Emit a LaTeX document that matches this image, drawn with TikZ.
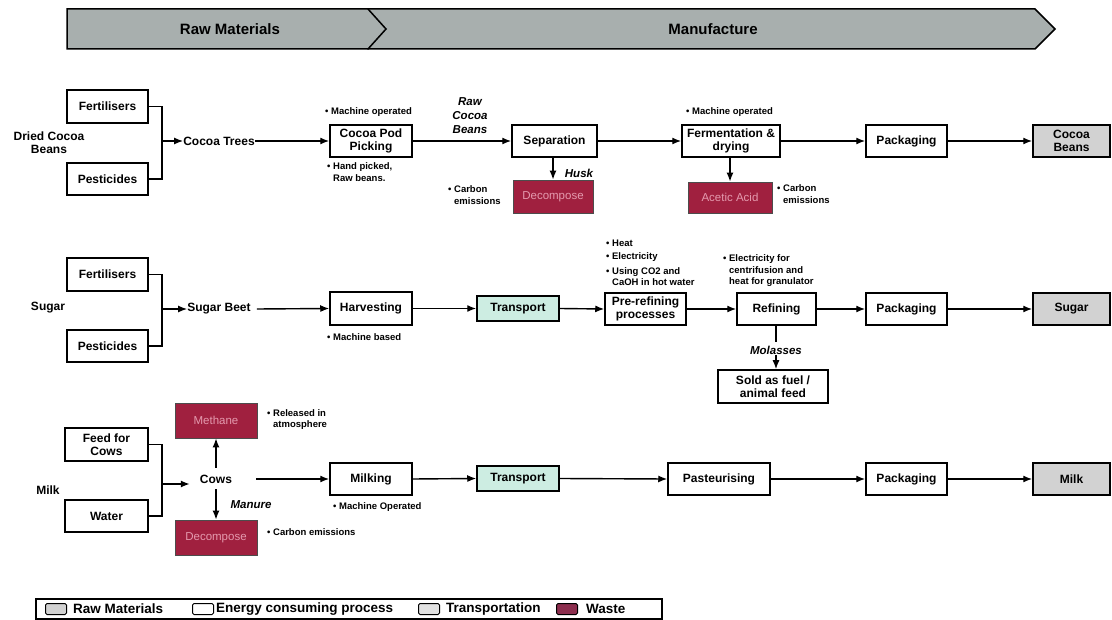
\documentclass[tikz,border=0pt]{standalone}
\usepackage{fontspec}
\setmainfont{Liberation Sans}
\usetikzlibrary{arrows.meta}
\definecolor{bannergrey}{HTML}{A8AFAE}
\definecolor{rawgrey}{HTML}{D2D2D2}
\definecolor{transfill}{HTML}{CDEDE2}
\definecolor{wastefill}{HTML}{A0203F}
\definecolor{wastetext}{HTML}{E49AAE}
\definecolor{legtrans}{HTML}{E2E2E2}
\definecolor{legwaste}{HTML}{8C2E4E}
\newcommand{\bul}{\textbullet\ }
\newcommand{\bulind}{\hphantom{\textbullet\ }}
\tikzset{
 box/.style={draw, line width=1.5pt, fill=white, inner sep=0pt, align=center, font=\fontsize{12}{13}\selectfont\bfseries},
 rawbox/.style={box, fill=rawgrey},
 transbox/.style={box, fill=transfill},
 wastebox/.style={draw=black!70, line width=0.8pt, fill=wastefill, inner sep=0pt, text=wastetext, font=\fontsize{11.5}{13}\selectfont},
 plain/.style={inner sep=0pt, align=center, font=\fontsize{12}{13}\selectfont\bfseries},
 ital/.style={inner sep=0pt, align=center, font=\fontsize{11.5}{14}\selectfont\bfseries\itshape},
 note/.style={inner sep=0pt, anchor=west, align=left, font=\fontsize{9.5}{11.5}\selectfont\bfseries},
 arr/.style={line width=1.4pt, -{Latex[length=9pt,width=7pt]}},
 ln/.style={line width=1.4pt},
 banner/.style={draw, line width=1.5pt, fill=bannergrey},
 bantext/.style={inner sep=0pt, font=\fontsize{15}{17}\selectfont\bfseries},
 legtext/.style={inner sep=0pt, anchor=west, font=\fontsize{13.5}{15}\selectfont\bfseries},
 swatch/.style={draw, line width=1pt, rounded corners=1.5pt, minimum width=21pt, minimum height=11pt, inner sep=0pt},
}
\begin{document}
\begin{tikzpicture}[x=1pt,y=-1pt]
\useasboundingbox[fill=white] (0,0) rectangle (1112,620);

% banner
\draw[banner] (368,9) -- (1035,9) -- (1055,29) -- (1035,49) -- (368,49) -- cycle;
\draw[banner] (67,9) -- (368,9) -- (386,29) -- (368,49) -- (67,49) -- cycle;
\node[bantext] (bRaw) at (230,29) {Raw Materials};
\node[bantext] (bMan) at (713,29) {Manufacture};

% ---------- Row 1: cocoa ----------
\node[plain] (lab1) at (49,143) {Dried Cocoa\\Beans};
\node[box, minimum width=81pt, minimum height=33pt] (fert1) at (107.5,106.5) {Fertilisers};
\node[box, minimum width=81pt, minimum height=32pt] (pest1) at (107.5,179) {Pesticides};
\coordinate (j1) at (162,141);
\node[plain] (trees) at (219,141) {Cocoa Trees};
\node[box, minimum width=82pt, minimum height=32pt] (pick) at (371,141) {Cocoa Pod\\Picking};
\node[box, minimum width=85pt, minimum height=32pt] (sep) at (554.5,141) {Separation};
\node[wastebox, minimum width=80pt, minimum height=33pt] (dec1) at (553,196.5) {Decompose};
\node[box, minimum width=98pt, minimum height=32pt] (ferm) at (731,141) {Fermentation \&\\drying};
\node[wastebox, minimum width=84pt, minimum height=31pt] (acet) at (730,197.5) {Acetic Acid};
\node[box, minimum width=81pt, minimum height=32pt] (pack1) at (906.5,141) {Packaging};
\node[rawbox, minimum width=77pt, minimum height=32pt] (cb) at (1071.5,141) {Cocoa\\Beans};

\node[ital] (rcb) at (470,116) {Raw\\Cocoa\\Beans};
\node[ital] (husk) at (579,173) {Husk};
\node[note] (n1) at (325,112) {\bul Machine operated};
\node[note] (n2) at (327,172) {\bul Hand picked,\\\bulind Raw beans.};
\node[note] (n3) at (448,195) {\bul Carbon\\\bulind emissions};
\node[note] (n4) at (686,112) {\bul Machine operated};
\node[note] (n5) at (777,194) {\bul Carbon\\\bulind emissions};

\draw[ln] (fert1.east) -| (j1) |- (pest1.east);
\draw[arr] (j1) -- (trees.west);
\draw[arr] (trees.east) -- (pick.west);
\draw[arr] (pick.east) -- (sep.west);
\draw[arr] (sep.south -| dec1.north) -- (dec1.north);
\draw[arr] (sep.east) -- (ferm.west);
\draw[arr] (ferm.south -| acet.north) -- (acet.north);
\draw[arr] (ferm.east) -- (pack1.west);
\draw[arr] (pack1.east) -- (cb.west);

% ---------- Row 2: sugar ----------
\node[plain] (lab2) at (48,308) {Sugar};
\node[box, minimum width=81pt, minimum height=33pt] (fert2) at (107.5,274.5) {Fertilisers};
\node[box, minimum width=81pt, minimum height=32pt] (pest2) at (107.5,346) {Pesticides};
\coordinate (j2) at (162,309);
\node[plain] (beet) at (219,309) {Sugar Beet};
\node[box, minimum width=82pt, minimum height=33pt] (harv) at (371,308.5) {Harvesting};
\node[transbox, minimum width=82pt, minimum height=25pt] (tr2) at (518,308.5) {Transport};
\node[box, minimum width=81pt, minimum height=32pt] (pre) at (645.5,309) {Pre-refining\\processes};
\node[box, minimum width=79pt, minimum height=32pt] (ref) at (776.5,309) {Refining};
\node[box, minimum width=110pt, minimum height=33pt] (sold) at (773,386.5) {Sold as fuel /\\animal feed};
\node[box, minimum width=81pt, minimum height=32pt] (pack2) at (906.5,309) {Packaging};
\node[rawbox, minimum width=77pt, minimum height=32pt] (sug) at (1071.5,309) {Sugar};

\node[ital] (mol) at (776,350) {Molasses};
\node[note] (n6) at (327,337) {\bul Machine based};
\node[note] (n7) at (606,243) {\bul Heat};
\node[note] (n8) at (606,257) {\bul Electricity};
\node[note] (n9) at (606,276.5) {\bul Using CO2 and\\\bulind CaOH in hot water};
\node[note] (n10) at (723,271) {\bul Electricity for\\\bulind centrifusion and\\\bulind heat for granulator};

\draw[ln] (fert2.east) -| (j2) |- (pest2.east);
\draw[arr] (j2) -- (beet.west);
\draw[arr] ([xshift=6pt]beet.east) -- (harv.west);
\draw[arr] (harv.east) -- (tr2.west);
\draw[arr] (tr2.east) -- (pre.west);
\draw[arr] (pre.east) -- (ref.west);
\draw[ln] (ref.south -| mol.north) -- ([yshift=4pt]mol.north);
\draw[arr] ([yshift=-1pt]mol.south) -- (mol.south |- sold.north);
\draw[arr] (ref.east) -- (pack2.west);
\draw[arr] (pack2.east) -- (sug.west);

% ---------- Row 3: milk ----------
\node[plain] (lab3) at (48,490) {Milk};
\node[box, minimum width=83pt, minimum height=33pt] (feed) at (106.5,444.5) {Feed for\\Cows};
\node[box, minimum width=83pt, minimum height=32pt] (water) at (106.5,516) {Water};
\coordinate (j3) at (162,484);
\node[plain] (cows) at (216,479) {Cows};
\node[wastebox, minimum width=82pt, minimum height=35pt] (meth) at (216,420.5) {Methane};
\node[wastebox, minimum width=82pt, minimum height=35pt] (dec3) at (216,537.5) {Decompose};
\node[box, minimum width=82pt, minimum height=32pt] (milking) at (371,479) {Milking};
\node[transbox, minimum width=82pt, minimum height=25pt] (tr3) at (518,478.5) {Transport};
\node[box, minimum width=102pt, minimum height=32pt] (past) at (719,479) {Pasteurising};
\node[box, minimum width=81pt, minimum height=32pt] (pack3) at (906.5,479) {Packaging};
\node[rawbox, minimum width=77pt, minimum height=32pt] (milkb) at (1071.5,479) {Milk};

\node[ital] (man) at (251,505) {Manure};
\node[note] (n11) at (267,419.5) {\bul Released in\\\bulind atmosphere};
\node[note] (n12) at (267,532) {\bul Carbon emissions};
\node[note] (n13) at (333,507) {\bul Machine Operated};

\draw[ln] (feed.east) -| (j3) |- (water.east);
\draw[arr] (j3) -- ([xshift=-10pt]cows.west |- j3);
\draw[arr] ([yshift=7pt]cows.north) -- (meth.south);
\draw[arr] ([yshift=-6pt]cows.south) -- (dec3.north);
\draw[arr] ([xshift=24pt]cows.east) -- (milking.west);
\draw[arr] (milking.east) -- (tr3.west);
\draw[arr] (tr3.east) -- (past.west);
\draw[arr] (past.east) -- (pack3.west);
\draw[arr] (pack3.east) -- (milkb.west);

% ---------- Legend ----------
\node[draw, line width=1.3pt, minimum width=626pt, minimum height=20pt, inner sep=0pt] (leg) at (349,609) {};
\node[swatch, fill=rawgrey] (s1) at (56,609) {};
\node[legtext] (t1) at (73,609) {Raw Materials};
\node[swatch, fill=white] (s2) at (203,609) {};
\node[legtext] (t2) at (216,609) {Energy consuming process};
\node[swatch, fill=legtrans] (s3) at (429,609) {};
\node[legtext] (t3) at (446,609) {Transportation};
\node[swatch, fill=legwaste] (s4) at (567,609) {};
\node[legtext] (t4) at (586,609) {Waste};
\end{tikzpicture}
\end{document}
